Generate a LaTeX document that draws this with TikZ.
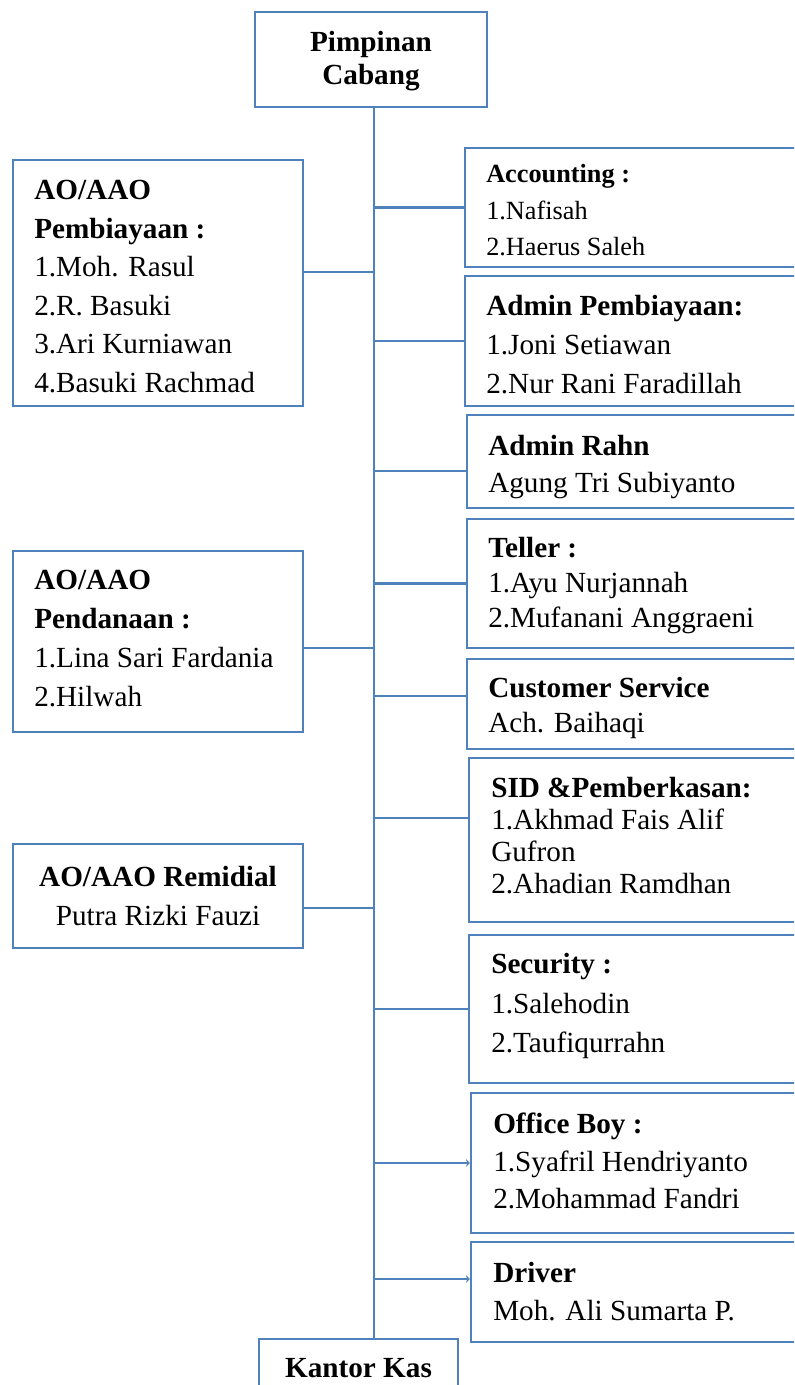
\documentclass[tikz,border=0pt]{standalone}
\usepackage{fontspec}
\setmainfont{Liberation Serif}
\usetikzlibrary{arrows.meta,fit}
\definecolor{lineBlue}{HTML}{4F81BD}

\begin{document}
\begin{tikzpicture}[x=0.75pt,y=-0.75pt,
unit/.style={draw=lineBlue,line width=1.6pt,inner sep=0,fit={#1}},
names/.style={inner sep=0,anchor=north west,align=left,font=\fontsize{21.9}{#1}\selectfont},
head/.style={inner sep=0,align=center,font=\fontsize{21.9}{#1}\selectfont},
link/.style={draw=lineBlue,line width=1.6pt},
tip/.style={-{Stealth[length=3pt,width=6pt]}}
]
\useasboundingbox (0,0) rectangle (794,1385);
\clip (0,0) rectangle (794,1385);

% top and bottom
\node[unit={(255,12)(487,107)}] (pim) {};
\node[head=24.75] (pimtxt) at (371,61) {\textbf{Pimpinan}\\\textbf{Cabang}};
\node[unit={(259,1339)(458,1400)}] (kas) {};
\node[head=26] (kastxt) at (358.5,1368) {\textbf{Kantor Kas}};
\coordinate (spine) at ([xshift=2.25pt]pim.south);

% left side
\node[unit={(13,160)(303,406)}] (lpb) {};
\node[names=28.9] (lpbtxt) at (34,180) {\textbf{AO/AAO}\\\textbf{Pembiayaan :}\\1.Moh. Rasul\\2.R. Basuki\\3.Ari Kurniawan\\4.Basuki Rachmad};
\node[unit={(13,551)(303,732)}] (lpd) {};
\node[names=29.25] (lpdtxt) at (34,570) {\textbf{AO/AAO}\\\textbf{Pendanaan :}\\1.Lina Sari Fardania\\2.Hilwah};
\node[unit={(13,844)(303,948)}] (lrm) {};
\node[head=28.5] (lrmtxt) at (158,896) {\textbf{AO/AAO Remidial}\\Putra Rizki Fauzi};

% right side
\node[unit={(465,148)(800,267)}] (acc) {};
\node[names=27.5,font=\fontsize{19.7}{27.5}\selectfont] (acctxt) at (486,164) {\textbf{Accounting :}\\1.Nafisah\\2.Haerus Saleh};
\node[unit={(465,276)(800,406)}] (adp) {};
\node[names=29.25] (adptxt) at (486,295) {\textbf{Admin Pembiayaan:}\\1.Joni Setiawan\\2.Nur Rani Faradillah};
\node[unit={(467,415)(800,508)}] (rahn) {};
\node[names=27.75] (rahntxt) at (488,435) {\textbf{Admin Rahn}\\Agung Tri Subiyanto};
\node[unit={(467,519)(800,648)}] (tel) {};
\node[names=26.25] (teltxt) at (488,537) {\textbf{Teller :}\\1.Ayu Nurjannah\\2.Mufanani Anggraeni};
\node[unit={(467,659)(800,749)}] (cs) {};
\node[names=26.25] (cstxt) at (488,677) {\textbf{Customer Service}\\Ach. Baihaqi};
\node[unit={(469,758)(800,922)}] (sid) {};
\node[names=24] (sidtxt) at (491,777) {\textbf{SID \&Pemberkasan:}\\1.Akhmad Fais Alif\\Gufron\\2.Ahadian Ramdhan};
\node[unit={(469,935)(800,1083)}] (sec) {};
\node[names=29.6] (sectxt) at (491,953) {\textbf{Security :}\\1.Salehodin\\2.Taufiqurrahn};
\node[unit={(471,1093)(800,1233)}] (ob) {};
\node[names=28.1] (obtxt) at (493,1113) {\textbf{Office Boy :}\\1.Syafril Hendriyanto\\2.Mohammad Fandri};
\node[unit={(471,1242)(800,1342)}] (drv) {};
\node[names=28.5] (drvtxt) at (493,1262) {\textbf{Driver}\\Moh. Ali Sumarta P.};

% connectors
\draw[link] (spine) -- (spine |- kas.north);
\draw[link] ([yshift=8.25pt]lpb.east) -- ([yshift=8.25pt]lpb.east -| spine);
\draw[link] ([yshift=-4.9pt]lpd.east) -- ([yshift=-4.9pt]lpd.east -| spine);
\draw[link] ([yshift=-9pt]lrm.east) -- ([yshift=-9pt]lrm.east -| spine);
\draw[link] (acc.west -| spine) -- (acc.west);
\draw[link] (adp.west -| spine) -- (adp.west);
\draw[link] ([yshift=-7.1pt]rahn.west -| spine) -- ([yshift=-7.1pt]rahn.west);
\draw[link] (tel.west -| spine) -- (tel.west);
\draw[link] ([yshift=6pt]cs.west -| spine) -- ([yshift=6pt]cs.west);
\draw[link] ([yshift=16.5pt]sid.west -| spine) -- ([yshift=16.5pt]sid.west);
\draw[link] (sec.west -| spine) -- (sec.west);
\draw[link,tip] (ob.west -| spine) -- (ob.west);
\draw[link,tip] ([yshift=9.75pt]drv.west -| spine) -- ([yshift=9.75pt]drv.west);
\end{tikzpicture}
\end{document}
